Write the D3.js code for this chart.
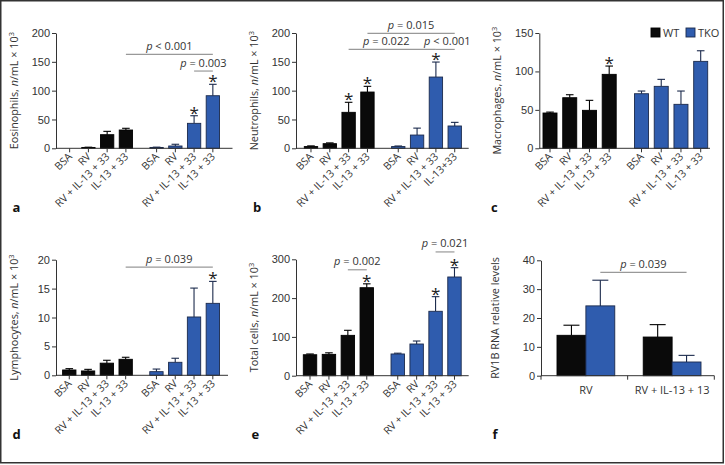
<!DOCTYPE html>
<html>
<head>
<meta charset="utf-8">
<script src="https://cdn.jsdelivr.net/npm/d3@7"></script>
<style>
  body { margin: 0; background: #fff; }
  svg { display: block; font-family: "Open Sans", "Noto Sans", sans-serif; }
</style>
</head>
<body>
<svg id="fig" width="725" height="465"></svg>
<script>
const groups = ["WT", "TKO"];
const conditions = ["BSA", "RV", "RV + IL-13 + 33", "IL-13 + 33"];
const conditionsTkoB = ["BSA", "RV", "RV + IL-13 + 33", "IL-13+33"];
const rnaConditions = ["RV", "RV + IL-13 + 13"];

// a: eosinophils
const eosWT = [0, 1.5, 23.6, 31.7];
const eosWTErr = [0, 0.4, 5.8, 3];
const eosTKO = [1.5, 4, 43.3, 91.2];
const eosTKOErr = [0.5, 3, 13.2, 19.8];
// b: neutrophils
const neuWT = [3, 8, 62.4, 97.6];
const neuWTErr = [1.2, 1.4, 17.4, 9.9];
const neuTKO = [3, 23, 123.6, 38.7];
const neuTKOErr = [1, 12, 26, 6.3];
// c: macrophages
const macWT = [45.9, 65.8, 49.4, 96.2];
const macWTErr = [1.2, 3.9, 13, 10.8];
const macTKO = [71, 80.6, 57.2, 113.1];
const macTKOErr = [3.5, 9.1, 17.3, 13.8];
// d: lymphocytes
const lymWT = [0.92, 0.75, 2.1, 2.77];
const lymWTErr = [0.23, 0.28, 0.5, 0.35];
const lymTKO = [0.63, 2.25, 10.09, 12.45];
const lymTKOErr = [0.45, 0.7, 5, 3.8];
// e: total cells
const totWT = [54, 55, 104, 226.8];
const totWTErr = [2, 4, 13, 10];
const totTKO = [56, 81.7, 166, 254.4];
const totTKOErr = [2, 7.7, 37.7, 24];
// f: RV1B RNA
const rnaWT = [14, 13.4];
const rnaWTErr = [3.5, 4.3];
const rnaTKO = [24.2, 4.75];
const rnaTKOErr = [8.9, 2.3];

// significance brackets: [group, index, group, index, level, label, label shift]
const sigA = [["WT", 3, "TKO", 3, 163, "< 0.001", 0], ["TKO", 2, "TKO", 3, 134, "= 0.003", 0]];
const sigB = [["WT", 3, "TKO", 3, 199.5, "= 0.015", 0], ["WT", 2, "TKO", 2, 171.5, "= 0.022", -6],
              ["TKO", 2, "TKO", 3, 171.5, "< 0.001", 2]];
const sigD = [["WT", 3, "TKO", 3, 18.7, "= 0.039", 0]];
const sigE = [["WT", 2, "WT", 3, 273, "= 0.002", 0], ["TKO", 2, "TKO", 3, 319, "= 0.021", 0]];
const sigF = [["TKO", 0, "TKO", 1, 35.8, "= 0.039", 0]];
// asterisks: [group, index]
const starsA = [["TKO", 2], ["TKO", 3]];
const starsB = [["WT", 2], ["WT", 3], ["TKO", 2]];
const starsC = [["WT", 3]];
const starsD = [["TKO", 3]];
const starsE = [["WT", 3], ["TKO", 2], ["TKO", 3]];

const colors = { WT: "#0a0a0a", TKO: "#2f5cae" };
const edge = { WT: "#000", TKO: "#1b2a4c" };
const textCol = "#333";

const panels = [
  { letter: "a", title: "Eosinophils", yTicks: [0, 50, 100, 150, 200],
    wt: eosWT, wtErr: eosWTErr, tko: eosTKO, tkoErr: eosTKOErr, sig: sigA, stars: starsA,
    x0: 56, x1: 232.5, g0: 63, g1: 219.5, yB: 148.3, yT: 33, lx: 12.5, ly: 212 },
  { letter: "b", title: "Neutrophils", yTicks: [0, 50, 100, 150, 200],
    wt: neuWT, wtErr: neuWTErr, tko: neuTKO, tkoErr: neuTKOErr, sig: sigB, stars: starsB,
    x0: 296, x1: 468.7, g0: 304.3, g1: 461.4, yB: 148.3, yT: 33, lx: 253, ly: 212, tkoLabels: conditionsTkoB },
  { letter: "c", title: "Macrophages", yTicks: [0, 50, 100, 150],
    wt: macWT, wtErr: macWTErr, tko: macTKO, tkoErr: macTKOErr, sig: [], stars: starsC,
    x0: 539.3, x1: 710, g0: 543, g1: 707.7, yB: 148.3, yT: 33, lx: 491, ly: 212 },
  { letter: "d", title: "Lymphocytes", yTicks: [0, 5, 10, 15, 20],
    wt: lymWT, wtErr: lymWTErr, tko: lymTKO, tkoErr: lymTKOErr, sig: sigD, stars: starsD,
    x0: 56, x1: 228, g0: 62.6, g1: 219.5, yB: 375.3, yT: 259.7, lx: 12.5, ly: 438.5 },
  { letter: "e", title: "Total cells", yTicks: [0, 100, 200, 300],
    wt: totWT, wtErr: totWTErr, tko: totTKO, tkoErr: totTKOErr, sig: sigE, stars: starsE,
    x0: 296, x1: 468.7, g0: 303.3, g1: 461.2, yB: 375.7, yT: 259.3, lx: 251.5, ly: 438.5 }
];

const svg = d3.select("#fig");

// outer frame
svg.append("rect")
  .attr("x", 0.75).attr("y", 0.75)
  .attr("width", 722.5).attr("height", 462)
  .attr("fill", "none").attr("stroke", "#333").attr("stroke-width", 1.5);

function yAxisTitle(g, x, yMid, parts) {
  const t = g.append("text")
    .attr("transform", `translate(${x},${yMid}) rotate(-90)`)
    .attr("text-anchor", "middle")
    .attr("font-size", 10.8)
    .attr("fill", textCol);
  parts.forEach(p => {
    const s = t.append("tspan").text(p.t);
    if (p.italic) s.attr("font-style", "italic");
    if (p.sup) s.attr("font-size", 7.5).attr("dy", -4);
  });
}

function drawPanel(p) {
  const g = svg.append("g");
  const y = d3.scaleLinear().domain([0, d3.max(p.yTicks)]).range([p.yB, p.yT]);
  const outer = d3.scaleBand().domain(groups).range([p.g0, p.g1]).paddingInner(0.2).paddingOuter(0);
  const inner = d3.scaleBand().domain(d3.range(4)).range([0, outer.bandwidth()])
    .paddingInner(0.29).paddingOuter(0);
  const cx = (grp, i) => outer(grp) + inner(i) + inner.bandwidth() / 2;

  const rows = [];
  groups.forEach(grp => {
    const vals = grp === "WT" ? p.wt : p.tko;
    const errs = grp === "WT" ? p.wtErr : p.tkoErr;
    const labels = grp === "TKO" && p.tkoLabels ? p.tkoLabels : conditions;
    vals.forEach((v, i) => rows.push({ grp, i, v, e: errs[i], label: labels[i] }));
  });

  // error bars (behind bars)
  const eb = g.append("g");
  rows.filter(d => d.e > 0).forEach(d => {
    const x = cx(d.grp, d.i);
    eb.append("line").attr("x1", x).attr("x2", x)
      .attr("y1", y(d.v)).attr("y2", y(d.v + d.e))
      .attr("stroke", edge[d.grp]).attr("stroke-width", 1.1);
    eb.append("line").attr("x1", x - 3.8).attr("x2", x + 3.8)
      .attr("y1", y(d.v + d.e)).attr("y2", y(d.v + d.e))
      .attr("stroke", edge[d.grp]).attr("stroke-width", 1.1);
  });

  g.append("g").selectAll("rect")
    .data(rows.filter(d => d.v > 0))
    .join("rect")
    .attr("x", d => outer(d.grp) + inner(d.i))
    .attr("width", inner.bandwidth())
    .attr("y", d => y(d.v))
    .attr("height", d => y(0) - y(d.v))
    .attr("fill", d => colors[d.grp])
    .attr("stroke", d => edge[d.grp])
    .attr("stroke-width", 0.9);

  // y axis
  const ya = g.append("g").attr("transform", `translate(${p.x0},0)`)
    .call(d3.axisLeft(y).tickValues(p.yTicks).tickSize(4).tickPadding(2).tickSizeOuter(0));
  ya.select(".domain").attr("stroke", "#333");
  ya.selectAll(".tick line").attr("stroke", "#333");
  ya.selectAll(".tick text").attr("font-size", 11).attr("fill", textCol).attr("font-family", null);

  // x axis
  g.append("line").attr("x1", p.x0).attr("x2", p.x1)
    .attr("y1", p.yB).attr("y2", p.yB).attr("stroke", "#333").attr("stroke-width", 1);
  rows.forEach(d => {
    const x = cx(d.grp, d.i);
    g.append("line").attr("x1", x).attr("x2", x).attr("y1", p.yB).attr("y2", p.yB + 4)
      .attr("stroke", "#333");
    g.append("text")
      .attr("transform", `translate(${x + 3},${p.yB + 9}) rotate(-45)`)
      .attr("text-anchor", "end")
      .attr("font-size", 10.5)
      .attr("fill", textCol)
      .text(d.label);
  });

  yAxisTitle(g, p.x0 - 38, (p.yB + p.yT) / 2, [
    { t: p.title + ", " }, { t: "n", italic: true }, { t: "/mL × 10" }, { t: "3", sup: true }
  ]);

  drawSig(g, p.sig, cx, y);

  p.stars.forEach(([grp, i]) => {
    const d = rows.find(r => r.grp === grp && r.i === i);
    g.append("text").attr("x", cx(grp, i)).attr("y", y(d.v + d.e) + 3)
      .attr("text-anchor", "middle").attr("font-size", 17).attr("fill", "#222").text("*");
  });

  g.append("text").attr("x", p.lx).attr("y", p.ly)
    .attr("font-size", 13).attr("font-weight", "bold").attr("fill", "#111").text(p.letter);
}

function drawSig(g, list, cx, y) {
  list.forEach(([ga, ia, gb, ib, level, label, shift]) => {
    const xa = cx(ga, ia), xb = cx(gb, ib), yy = y(level);
    g.append("line").attr("x1", xa).attr("x2", xb).attr("y1", yy).attr("y2", yy)
      .attr("stroke", "#999").attr("stroke-width", 1.2);
    const t = g.append("text").attr("x", (xa + xb) / 2 + shift).attr("y", yy - 4.5)
      .attr("text-anchor", "middle").attr("font-size", 11).attr("fill", textCol);
    t.append("tspan").attr("font-style", "italic").text("p");
    t.append("tspan").text(" " + label);
  });
}

panels.forEach(drawPanel);

// legend in panel c
const legend = svg.append("g").attr("transform", "translate(651,28)");
groups.forEach((grp, k) => {
  const lg = legend.append("g").attr("transform", `translate(${k * 35},0)`);
  lg.append("rect").attr("width", 9).attr("height", 9)
    .attr("fill", colors[grp]).attr("stroke", edge[grp]).attr("stroke-width", 0.9);
  lg.append("text").attr("x", 12).attr("y", 8.5).attr("font-size", 11)
    .attr("fill", textCol).text(grp);
});

// f: RV1B RNA
(function () {
  const p = { x0: 541, x1: 714.3, g0: 557, g1: 701, yB: 375.7, yT: 260.3 };
  const g = svg.append("g");
  const y = d3.scaleLinear().domain([0, 40]).range([p.yB, p.yT]);
  const outer = d3.scaleBand().domain(d3.range(2)).range([p.g0, p.g1]).paddingInner(0.33).paddingOuter(0);
  const inner = d3.scaleBand().domain(groups).range([0, outer.bandwidth()]).padding(0);
  const cx = (grp, i) => outer(i) + inner(grp) + inner.bandwidth() / 2;

  const rows = [];
  rnaConditions.forEach((c, i) => {
    rows.push({ grp: "WT", i, v: rnaWT[i], e: rnaWTErr[i] });
    rows.push({ grp: "TKO", i, v: rnaTKO[i], e: rnaTKOErr[i] });
  });

  rows.forEach(d => {
    const x = cx(d.grp, d.i);
    g.append("line").attr("x1", x).attr("x2", x)
      .attr("y1", y(d.v)).attr("y2", y(d.v + d.e))
      .attr("stroke", edge[d.grp]).attr("stroke-width", 1.1);
    g.append("line").attr("x1", x - 8).attr("x2", x + 8)
      .attr("y1", y(d.v + d.e)).attr("y2", y(d.v + d.e))
      .attr("stroke", edge[d.grp]).attr("stroke-width", 1.1);
  });

  g.append("g").selectAll("rect").data(rows).join("rect")
    .attr("x", d => outer(d.i) + inner(d.grp))
    .attr("width", inner.bandwidth())
    .attr("y", d => y(d.v))
    .attr("height", d => y(0) - y(d.v))
    .attr("fill", d => colors[d.grp])
    .attr("stroke", d => edge[d.grp])
    .attr("stroke-width", 0.9);

  const ya = g.append("g").attr("transform", `translate(${p.x0},0)`)
    .call(d3.axisLeft(y).tickValues([0, 10, 20, 30, 40]).tickSize(4).tickPadding(2).tickSizeOuter(0));
  ya.select(".domain").attr("stroke", "#333");
  ya.selectAll(".tick line").attr("stroke", "#333");
  ya.selectAll(".tick text").attr("font-size", 11).attr("fill", textCol).attr("font-family", null);

  g.append("line").attr("x1", p.x0).attr("x2", p.x1)
    .attr("y1", p.yB).attr("y2", p.yB).attr("stroke", "#333");
  [p.x0, (p.x0 + p.x1) / 2, p.x1].forEach(x => {
    g.append("line").attr("x1", x).attr("x2", x).attr("y1", p.yB).attr("y2", p.yB + 4)
      .attr("stroke", "#333");
  });
  rnaConditions.forEach((c, i) => {
    g.append("text").attr("x", outer(i) + outer.bandwidth() / 2).attr("y", p.yB + 18)
      .attr("text-anchor", "middle").attr("font-size", 11).attr("fill", textCol).text(c);
  });

  yAxisTitle(g, p.x0 - 42, (p.yB + p.yT) / 2, [{ t: "RV1B RNA relative levels" }]);
  drawSig(g, sigF, cx, y);

  g.append("text").attr("x", 492.5).attr("y", 438.5)
    .attr("font-size", 13).attr("font-weight", "bold").attr("fill", "#111").text("f");
})();
</script>
</body>
</html>
